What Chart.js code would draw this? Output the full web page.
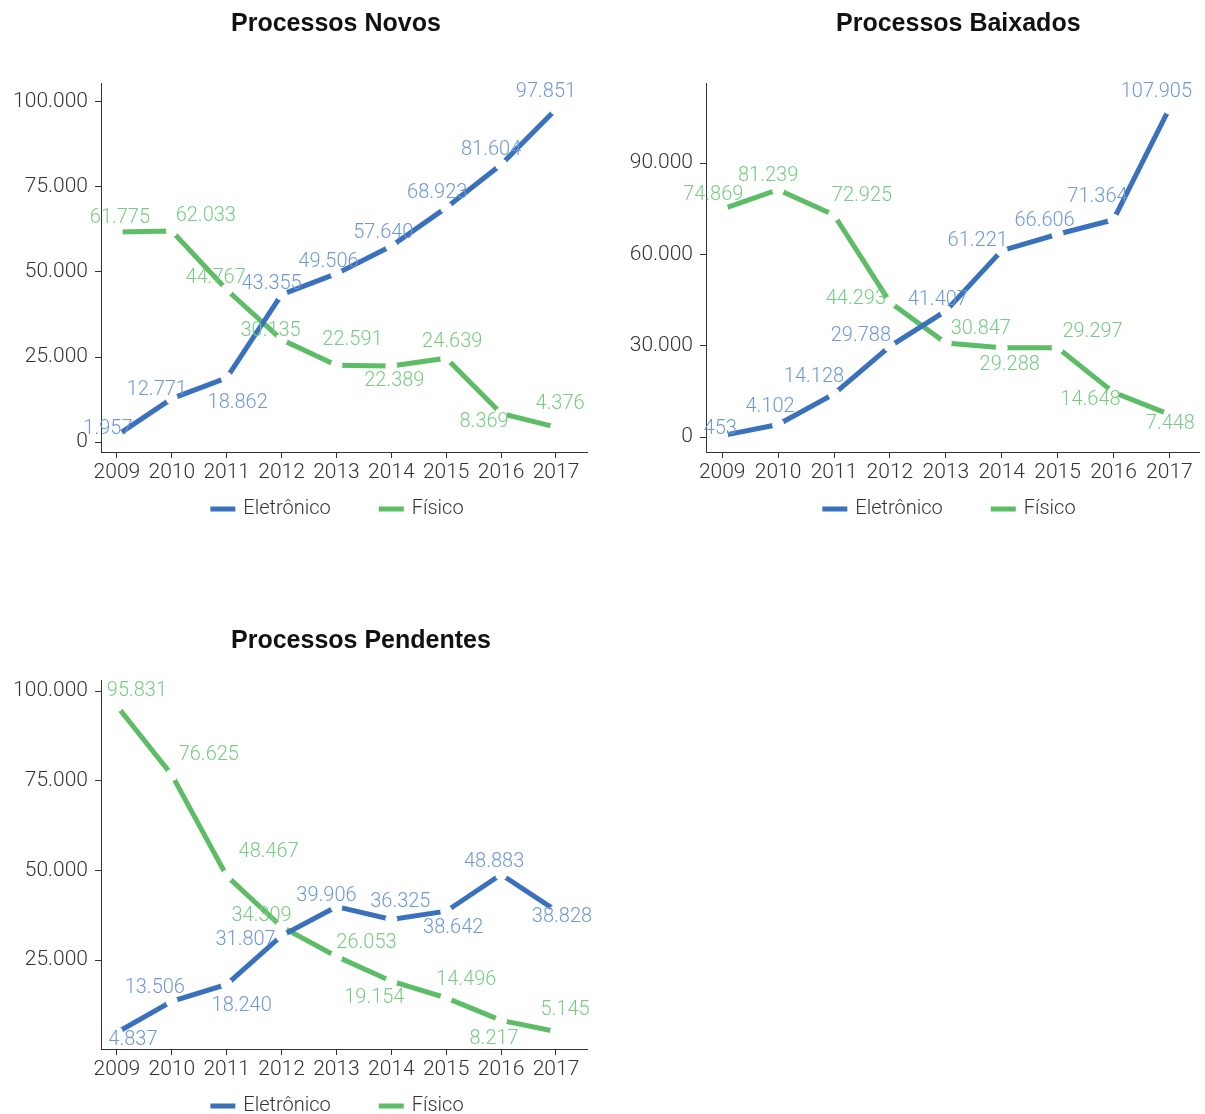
<!DOCTYPE html>
<html lang="pt-BR">
  <head>
    <meta charset="UTF-8" />
    <title>Processos</title>
    <script src="https://cdn.jsdelivr.net/npm/chart.js"></script>
    <style>
      html, body {
        margin: 0;
        width: 1205px;
        height: 1114px;
        overflow: hidden;
        background: #fff;
      }
      .box {
        position: absolute;
      }
    </style>
  </head>
  <body>
    <div class="box" style="left:0;top:0;width:600px;height:528px"><canvas id="novos"></canvas></div>
    <div class="box" style="left:600px;top:0;width:605px;height:528px"><canvas id="baixados"></canvas></div>
    <div class="box" style="left:0;top:597px;width:600px;height:528px"><canvas id="pendentes"></canvas></div>
    <script>
      const years = [2009, 2010, 2011, 2012, 2013, 2014, 2015, 2016, 2017];

      const novosEletronico = [1957, 12771, 18862, 43355, 49506, 57640, 68923, 81604, 97851];
      const novosFisico = [61775, 62033, 44767, 30135, 22591, 22389, 24639, 8369, 4376];
      const novosTicks = [0, 25000, 50000, 75000, 100000];

      const baixadosEletronico = [453, 4102, 14128, 29788, 41407, 61221, 66606, 71364, 107905];
      const baixadosFisico = [74869, 81239, 72925, 44293, 30847, 29288, 29297, 14648, 7448];
      const baixadosTicks = [0, 30000, 60000, 90000];

      const pendentesEletronico = [4837, 13506, 18240, 31807, 39906, 36325, 38642, 48883, 38828];
      const pendentesFisico = [95831, 76625, 48467, 34309, 26053, 19154, 14496, 8217, 5145];
      const pendentesTicks = [25000, 50000, 75000, 100000];

      // where each value label sits relative to its point (dx, dy in px)
      const novosOffE = [[-9,-6],[-15,-9],[11,25],[-10,-11],[-8,-12],[-8,-13],[-9,-15],[-10,-15],[-10,-17]];
      const novosOffF = [[3,-14],[34,-15],[-11,-12],[-11,-9],[16,-25],[3,15],[6,-16],[-17,8],[4,-23]];
      const baixOffE = [[-2,-7],[-8,-18],[-20,-17],[-29,-10],[-8,-11],[-24,-10],[-13,-13],[-16,-23],[-13,-16]];
      const baixOffF = [[-9,-14],[-10,-14],[28,-19],[-34,-3],[35,-14],[8,17],[35,-16],[-23,8],[1,10]];
      const pendOffE = [[16,7],[-17,-13],[15,22],[-36,4],[-10,-11],[9,-18],[7,17],[-7,-12],[6,6]];
      const pendOffF = [[20,-15],[37,-20],[42,-24],[-20,-11],[30,-13],[-17,17],[20,-18],[-7,19],[9,-21]];

      const BLUE = "#3a71bd";
      const GREEN = "#5dbd66";
      const BLUE_LABEL = "#6d99d8";
      const GREEN_LABEL = "#76cc80";
      const FONT = "Roboto";

      const fmt = (v) => String(v).replace(/\B(?=(\d{3})+(?!\d))/g, ".");

      const valueLabels = {
        id: "valueLabels",
        afterDatasetsDraw(chart) {
          const ctx = chart.ctx;
          ctx.save();
          ctx.font = "300 20px " + FONT;
          ctx.textAlign = "center";
          ctx.textBaseline = "middle";
          chart.data.datasets.forEach((ds, di) => {
            const meta = chart.getDatasetMeta(di);
            ctx.fillStyle = ds.labelColor;
            meta.data.forEach((pt, i) => {
              const off = ds.labelOffsets[i];
              ctx.fillText(fmt(ds.data[i].y), pt.x + off[0], pt.y + off[1]);
            });
          });
          ctx.restore();
        },
      };

      // title + legend drawn by hand so the axes keep their own room
      const frame = {
        id: "frame",
        afterDraw(chart, args, opts) {
          const ctx = chart.ctx;
          ctx.save();
          ctx.font = "bold 25px 'Liberation Sans'";
          ctx.fillStyle = "#111";
          ctx.textAlign = "left";
          ctx.textBaseline = "middle";
          ctx.fillText(opts.title, chart.chartArea.left + 130, opts.titleY);

          ctx.font = "300 20px " + FONT;
          const items = chart.data.datasets.map((ds) => ({
            text: ds.label,
            color: ds.borderColor,
            w: 25 + 8 + ctx.measureText(ds.label).width,
          }));
          const gap = 48;
          const total = items.reduce((s, it) => s + it.w, 0) + gap * (items.length - 1);
          let x = opts.legendX - total / 2;
          items.forEach((it) => {
            ctx.fillStyle = it.color;
            ctx.fillRect(x, opts.legendY - 2.5, 25, 5);
            ctx.fillStyle = "#333";
            ctx.fillText(it.text, x + 33, opts.legendY);
            x += it.w + gap;
          });
          ctx.restore();
        },
      };

      function makeChart(id, title, titleY, legendX, eletronico, fisico, offE, offF, yTicks, yMin, yMax, xMax, pad, yWidth) {
        return new Chart(document.getElementById(id), {
          type: "line",
          data: {
            datasets: [
              {
                label: "Eletrônico",
                data: years.map((y, i) => ({ x: y, y: eletronico[i] })),
                borderColor: BLUE,
                backgroundColor: BLUE,
                borderWidth: 5,
                pointRadius: 6,
                pointBorderWidth: 0,
                pointBackgroundColor: "#fff",
                labelColor: BLUE_LABEL,
                labelOffsets: offE,
              },
              {
                label: "Físico",
                data: years.map((y, i) => ({ x: y, y: fisico[i] })),
                borderColor: GREEN,
                backgroundColor: GREEN,
                borderWidth: 5,
                pointRadius: 6,
                pointBorderWidth: 0,
                pointBackgroundColor: "#fff",
                labelColor: GREEN_LABEL,
                labelOffsets: offF,
              },
            ],
          },
          options: {
            responsive: true,
            maintainAspectRatio: false,
            animation: false,
            events: [],
            layout: { padding: pad },
            scales: {
              x: {
                type: "linear",
                min: 2008.71,
                max: xMax,
                afterBuildTicks: (s) => { s.ticks = years.map((v) => ({ value: v })); },
                afterFit: (s) => { s.height = 40; },
                grid: { drawOnChartArea: false, tickLength: 6, color: "#333" },
                border: { color: "#333", width: 1 },
                ticks: {
                  callback: (v) => String(v),
                  maxRotation: 0,
                  autoSkip: false,
                  padding: 2,
                  color: "#333",
                  font: { family: FONT, size: 21, weight: 300 },
                },
              },
              y: {
                min: yMin,
                max: yMax,
                afterBuildTicks: (s) => { s.ticks = yTicks.map((v) => ({ value: v })); },
                afterFit: (s) => { s.width = yWidth; },
                grid: { drawOnChartArea: false, tickLength: 6, color: "#333" },
                border: { color: "#333", width: 1 },
                ticks: {
                  callback: (v) => fmt(v),
                  padding: 7,
                  color: "#333",
                  font: { family: FONT, size: 21, weight: 300 },
                },
              },
            },
            plugins: {
              tooltip: { enabled: false },
              legend: { display: false },
              frame: { title: title, titleY: titleY, legendX: legendX, legendY: 509 },
            },
          },
          plugins: [valueLabels, frame],
        });
      }

      makeChart("novos", "Processos Novos", 24, 337, novosEletronico, novosFisico, novosOffE, novosOffF,
        novosTicks, -2941, 105588, 2017.565, { top: 83, left: 0, right: 13, bottom: 36 }, 101);

      makeChart("baixados", "Processos Baixados", 24, 349, baixadosEletronico, baixadosFisico, baixOffE, baixOffF,
        baixadosTicks, -4927, 116280, 2017.53, { top: 83, left: 0, right: 0, bottom: 36 }, 106);

      makeChart("pendentes", "Processos Pendentes", 44, 337, pendentesEletronico, pendentesFisico, pendOffE, pendOffF,
        pendentesTicks, 250, 103066, 2017.565, { top: 83, left: 0, right: 13, bottom: 36 }, 101);
    </script>
  </body>
</html>
